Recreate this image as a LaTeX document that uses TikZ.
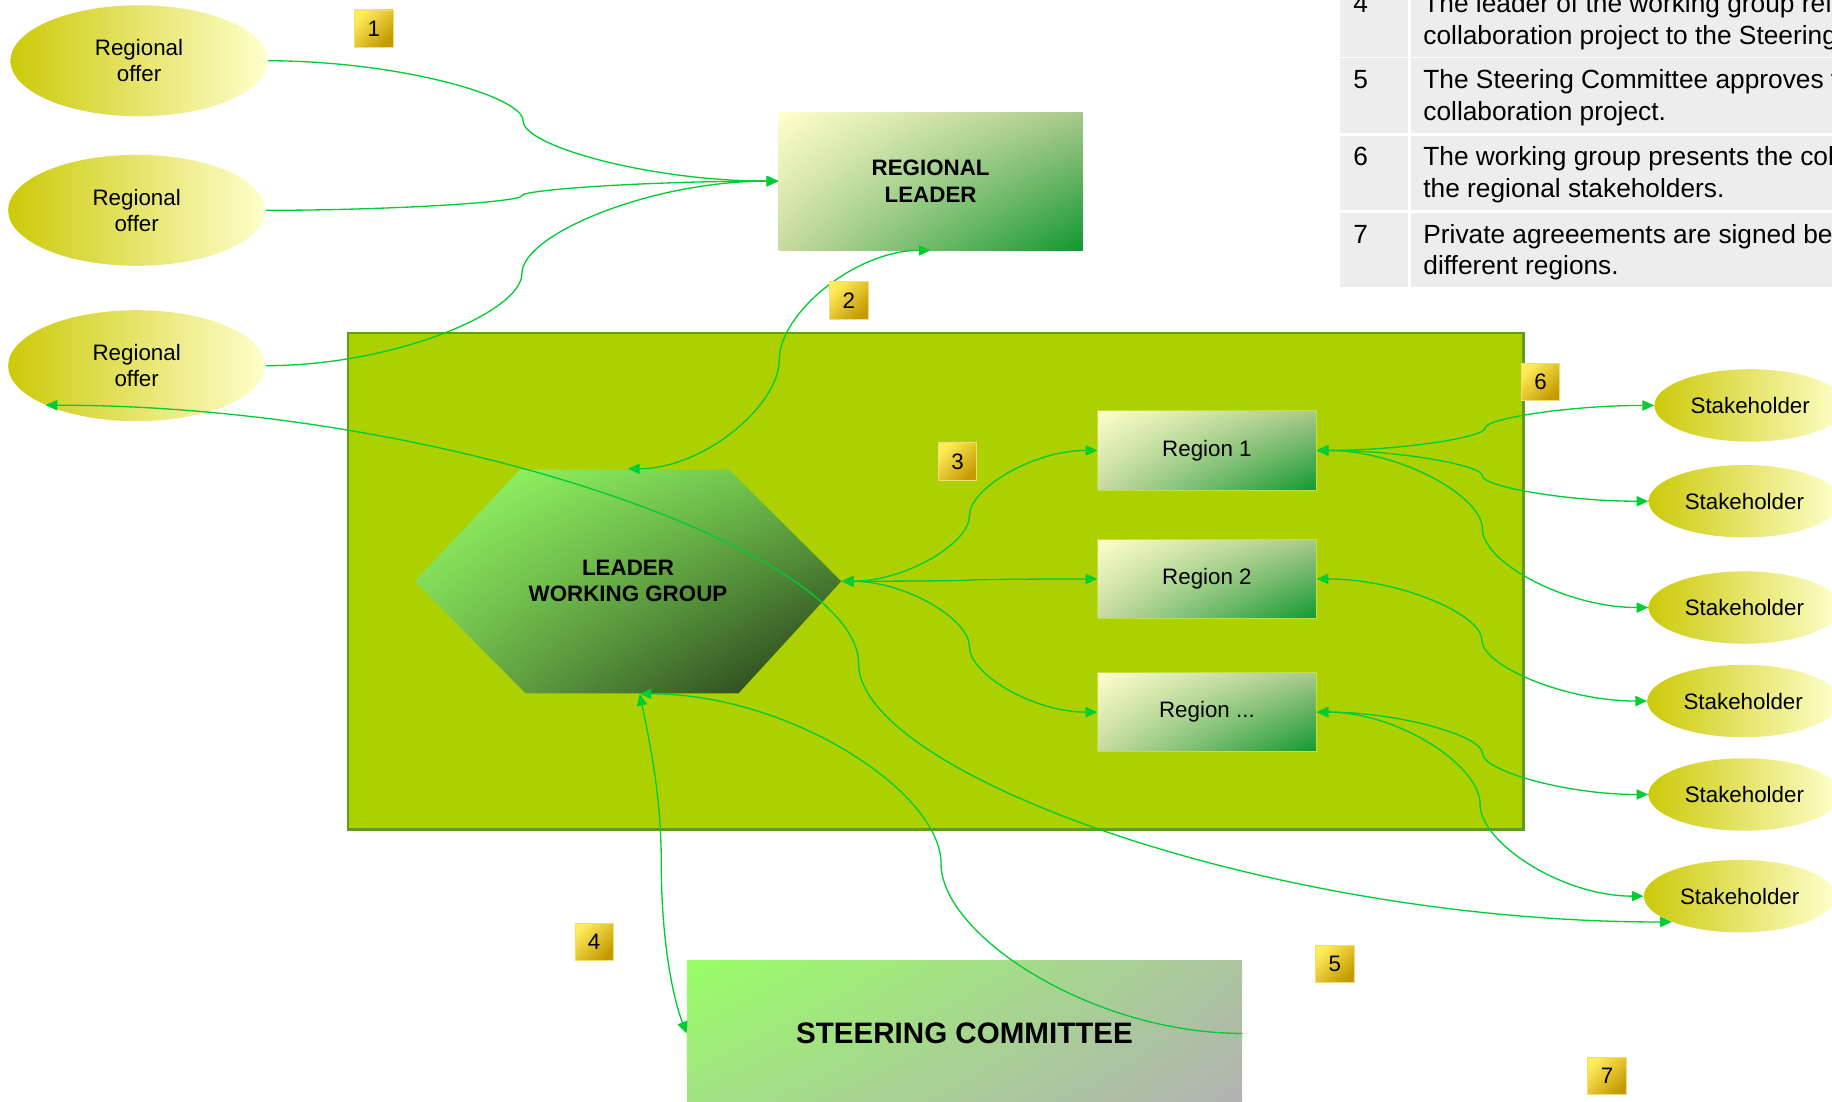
\documentclass[tikz,border=0pt]{standalone}
\usepackage{fontspec}
\setmainfont{Liberation Sans}
\usetikzlibrary{calc,arrows.meta,shapes.geometric,shadings}
\definecolor{offerL}{RGB}{204,202,10}
\definecolor{offerR}{RGB}{255,255,204}
\definecolor{boxL}{RGB}{255,255,204}
\definecolor{boxR}{RGB}{16,152,48}
\definecolor{boxUR}{RGB}{168,200,138}
\definecolor{boxLL}{RGB}{200,218,160}
\definecolor{boxD}{RGB}{196,224,60}
\definecolor{hexL}{RGB}{153,255,102}
\definecolor{hexUR}{RGB}{104,184,72}
\definecolor{hexLL}{RGB}{112,190,76}
\definecolor{hexR}{RGB}{30,48,20}
\definecolor{comUR}{RGB}{172,196,160}
\definecolor{comLL}{RGB}{162,226,132}
\definecolor{comR}{RGB}{178,178,178}
\definecolor{goldL}{RGB}{255,236,90}
\definecolor{goldR}{RGB}{196,154,0}
\definecolor{goldD}{RGB}{240,222,120}
\definecolor{panelF}{RGB}{173,209,0}
\definecolor{panelD}{RGB}{94,158,30}
\definecolor{linkC}{RGB}{0,204,51}
\definecolor{cellC}{RGB}{237,237,237}

\begin{document}
\begin{tikzpicture}[x=0.025cm,y=0.025cm,font=\fontsize{13.6}{16}\selectfont,>={Triangle[length=2.5mm,width=2.2mm]}]
  \tikzstyle{offer}=[ellipse,left color=offerL,right color=offerR,inner sep=0,minimum width=5.5cm,minimum height=2.375cm,align=center]
  \tikzstyle{stake}=[ellipse,left color=offerL,right color=offerR,inner sep=0,minimum width=4.1cm,minimum height=1.55cm]
  \tikzstyle{greenbox}=[rectangle,upper left=boxL,upper right=boxUR,lower left=boxLL,lower right=boxR,align=center]
  \tikzstyle{regbox}=[greenbox,draw=boxD,line width=0.5pt,minimum width=4.675cm,minimum height=1.7cm]
  \tikzstyle{badge}=[rectangle,top color=goldL,bottom color=goldR,shading angle=45,draw=goldD,line width=0.4pt,minimum width=0.825cm,minimum height=0.8cm,inner sep=0]
  \tikzstyle{panel}=[rectangle,draw=panelD,line width=1.6pt,fill=panelF,minimum width=25.15cm,minimum height=10.625cm]
  \tikzstyle{link}=[draw=linkC,line width=0.8pt]
  \tikzstyle{scurve}=[to path={let \p1=(\tikztostart), \p2=(\tikztotarget), \p3=($(\p1)!.5!(\p2)$) in
    .. controls ($(\p1)!.25!(\x2,\y1)$) and ($(\p3)!.42!(\x3,\y1)$) .. (\p3)
    .. controls ($(\p3)!.42!(\x3,\y2)$) and ($(\p2)!.25!(\x1,\y2)$) .. (\p2) \tikztonodes}]
  \tikzstyle{tabtxt}=[anchor=base west,inner sep=0,font=\fontsize{16}{19}\selectfont]
  \useasboundingbox (0,0) rectangle (1568,-943);
  \clip (0,0) rectangle (1568,-943);

  \foreach \n/\b/\la/\lb in {4/11/The leader of the working group ref/collaboration project to the Steering,
      5/76/The Steering Committee approves t/collaboration project.,
      6/142/The working group presents the col/the regional stakeholders.,
      7/208/Private agreeements are signed be/different regions.}{
    \fill[cellC] (1147,{26-\b}) rectangle (1205,{-\b-37.5});
    \fill[cellC] (1207.5,{26-\b}) rectangle (1580,{-\b-37.5});
    \node[tabtxt] (num\n) at (1158,-\b) {\n};
    \node[tabtxt] (txa\n) at (1218,-\b) {\la};
    \node[tabtxt] (txb\n) at (1218,{-\b-27}) {\lb};
  }

  \node[panel] (grp) at (801,-497.5) {};
  \node[offer] (e1) at (119,-52) {Regional\\offer};
  \node[offer] (e2) at (117,-180) {Regional\\offer};
  \node[offer] (e3) at (117,-313) {Regional\\offer};
  \node[greenbox,minimum width=6.5cm,minimum height=2.95cm,font=\fontsize{13.6}{16}\selectfont\bfseries] (rl) at (796.5,-155) {REGIONAL\\LEADER};
  \shade[upper left=hexL,upper right=hexUR,lower left=hexLL,lower right=hexR] (445,-402) -- (624,-402) -- (720,-497.5) -- (632,-593.5) -- (450,-593.5) -- (355,-497.5) -- cycle;
  \node[align=center,minimum width=9.125cm,minimum height=4.8cm,font=\fontsize{13.6}{16}\selectfont\bfseries] (lwg) at (537.5,-497.5) {LEADER\\WORKING GROUP};
  \node[regbox] (r1) at (1033,-385.5) {Region 1};
  \node[regbox] (r2) at (1033,-495.5) {Region 2};
  \node[regbox] (r3) at (1033,-609.5) {Region ...};
  \node[rectangle,upper left=hexL,upper right=comUR,lower left=comLL,lower right=comR,minimum width=11.875cm,minimum height=3.1cm,font=\fontsize{18}{21}\selectfont\bfseries] (sc) at (825.5,-884.5) {STEERING COMMITTEE};
  \node[stake] (s1) at (1498,-347) {Stakeholder};
  \node[stake] (s2) at (1493,-429) {Stakeholder};
  \node[stake] (s3) at (1493,-520) {Stakeholder};
  \node[stake] (s4) at (1492,-600) {Stakeholder};
  \node[stake] (s5) at (1493,-680) {Stakeholder};
  \node[stake] (s6) at (1489,-767) {Stakeholder};

  \foreach \e in {e1,e2,e3}
    \draw[link,->] (\e.east) to[scurve] (rl.west);
  \draw[link,<->] (lwg.north) to[scurve] (rl.south);
  \foreach \r in {r1,r2,r3}
    \draw[link,<->] (lwg.east) to[scurve] (\r.west);
  \foreach \r/\s in {r1/s1,r1/s2,r1/s3,r2/s4,r3/s5,r3/s6}
    \draw[link,<->] (\r.east) to[scurve] (\s.west);
  \draw[link,<->] (e3.south west) to[scurve] (s6.south west);
  \draw[link,->] (sc.east) to[scurve] ([xshift=0.25cm]lwg.south);
  \draw[link,<->] ([xshift=0.25cm]lwg.south) .. controls +(12,-57) and +(0,50) .. (566,-740) .. controls +(0,-60) and +(-13,34) .. (sc.west);

  \node[badge] (b1) at (320,-24.5) {1};
  \node[badge] (b2) at (726.5,-257) {2};
  \node[badge] (b3) at (819.5,-395) {3};
  \node[badge] (b4) at (508.5,-806) {4};
  \node[badge] (b5) at (1142.5,-825) {5};
  \node[badge] (b6) at (1318.5,-327) {6};
  \node[badge] (b7) at (1375.5,-921) {7};
\end{tikzpicture}
\end{document}
